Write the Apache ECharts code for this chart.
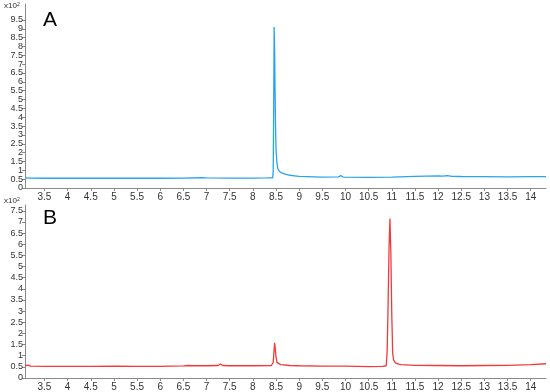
<!DOCTYPE html>
<html>
<head>
<meta charset="utf-8">
<script src="https://cdn.jsdelivr.net/npm/echarts@6/dist/echarts.min.js"></script>
<style>
    html, body { margin: 0; padding: 0; background: #fff; }
    #chart { width: 550px; height: 392px; }
</style>
</head>
<body>
<div id="chart"></div>
<script>
// retention time (min) and intensity (x10^2) for trace A
var timesA = [3.08, 3.2, 3.5, 4, 4.5, 5, 5.5, 6, 6.5, 6.9, 7.0, 7.5, 8, 8.3, 8.43, 8.44, 8.45, 8.46, 8.47, 8.48, 8.49, 8.5, 8.52, 8.54, 8.57, 8.62, 8.7, 8.8, 8.9, 9.0, 9.5, 9.85, 9.9, 9.95, 10.5, 11, 11.5, 12, 12.1, 12.2, 12.3, 12.5, 13, 13.5, 14, 14.33];
var valuesA = [0.57, 0.56, 0.55, 0.55, 0.55, 0.55, 0.56, 0.55, 0.56, 0.58, 0.57, 0.56, 0.56, 0.57, 0.58, 1.0, 4.5, 9.1, 7.8, 5.5, 3.5, 2.2, 1.4, 1.1, 0.95, 0.85, 0.78, 0.72, 0.69, 0.66, 0.62, 0.63, 0.7, 0.62, 0.6, 0.61, 0.66, 0.68, 0.67, 0.7, 0.66, 0.65, 0.64, 0.63, 0.64, 0.64];

// trace B
var timesB = [3.08, 3.15, 3.2, 3.5, 4, 4.5, 5, 5.5, 6, 6.5, 6.6, 6.7, 7.0, 7.25, 7.3, 7.35, 7.5, 8, 8.4, 8.44, 8.46, 8.47, 8.48, 8.5, 8.52, 8.6, 8.8, 9, 9.5, 10, 10.5, 10.8, 10.88, 10.9, 10.92, 10.94, 10.96, 10.98, 11.0, 11.02, 11.04, 11.08, 11.15, 11.2, 11.5, 12, 12.5, 13, 13.5, 14, 14.33];
var valuesB = [0.55, 0.58, 0.53, 0.52, 0.52, 0.52, 0.53, 0.52, 0.52, 0.54, 0.56, 0.55, 0.55, 0.56, 0.63, 0.56, 0.55, 0.55, 0.56, 0.7, 1.3, 1.58, 1.4, 0.95, 0.7, 0.6, 0.56, 0.55, 0.53, 0.53, 0.51, 0.52, 0.55, 1.2, 3.2, 5.8, 7.15, 5.6, 2.8, 1.1, 0.8, 0.68, 0.62, 0.6, 0.57, 0.56, 0.55, 0.56, 0.57, 0.6, 0.64];

var xTicks = [3.5, 4, 4.5, 5, 5.5, 6, 6.5, 7, 7.5, 8, 8.5, 9, 9.5, 10, 10.5, 11, 11.5, 12, 12.5, 13, 13.5, 14];
var yTicksA = [0, 0.5, 1, 1.5, 2, 2.5, 3, 3.5, 4, 4.5, 5, 5.5, 6, 6.5, 7, 7.5, 8, 8.5, 9, 9.5];
var yTicksB = [0, 0.5, 1, 1.5, 2, 2.5, 3, 3.5, 4, 4.5, 5, 5.5, 6, 6.5, 7, 7.5];

function pairs(xs, ys) {
    return xs.map(function (x, i) { return [x, ys[i]]; });
}

var axisGray = '#8a8a8a';

function xAxisFor(idx) {
    return {
        type: 'value',
        gridIndex: idx,
        min: 3.08,
        max: 14.33,
        axisLine: { show: true, lineStyle: { color: axisGray } },
        axisTick: { show: true, length: 3, customValues: xTicks, lineStyle: { color: axisGray } },
        axisLabel: { customValues: xTicks, interval: 0, hideOverlap: false, color: '#333', fontSize: 10, fontFamily: 'Liberation Sans, Arial', margin: 4 },
        splitLine: { show: false }
    };
}

function yAxisFor(idx, max, ticks) {
    return {
        type: 'value',
        gridIndex: idx,
        min: 0,
        max: max,
        axisLine: { show: true, lineStyle: { color: axisGray } },
        axisTick: { show: true, length: 3, customValues: ticks, lineStyle: { color: axisGray } },
        axisLabel: { customValues: ticks, interval: 0, hideOverlap: false, showMinLabel: true, showMaxLabel: true, color: '#333', fontSize: 9, fontFamily: 'Liberation Sans, Arial', margin: 2 },
        splitLine: { show: false }
    };
}

var myChart = echarts.init(document.getElementById('chart'));
myChart.setOption({
    animation: false,
    grid: [
        { left: 25, right: 4, top: 4, height: 184 },
        { left: 25, right: 4, top: 205, height: 176 }
    ],
    xAxis: [xAxisFor(0), xAxisFor(1)],
    yAxis: [yAxisFor(0, 10.4, yTicksA), yAxisFor(1, 7.76, yTicksB)],
    graphic: [
        { type: 'text', left: 43, top: 10, style: { text: 'A', fontSize: 21, fill: '#000', fontFamily: 'Liberation Sans, Arial' } },
        { type: 'text', left: 43, top: 208, style: { text: 'B', fontSize: 21, fill: '#000', fontFamily: 'Liberation Sans, Arial' } },
        { type: 'text', left: 4, top: 2, style: { rich: { b: { fontSize: 8, fill: '#333' }, s: { fontSize: 5, fill: '#333', verticalAlign: 'top', padding: [0, 0, 3, 0] } }, text: '{b|x10}{s|2}' } },
        { type: 'text', left: 4, top: 197, style: { rich: { b: { fontSize: 8, fill: '#333' }, s: { fontSize: 5, fill: '#333', verticalAlign: 'top', padding: [0, 0, 3, 0] } }, text: '{b|x10}{s|2}' } }
    ],
    series: [
        {
            type: 'line',
            xAxisIndex: 0,
            yAxisIndex: 0,
            showSymbol: false,
            data: pairs(timesA, valuesA),
            lineStyle: { color: '#2aa3ef', width: 1.3 }
        },
        {
            type: 'line',
            xAxisIndex: 1,
            yAxisIndex: 1,
            showSymbol: false,
            data: pairs(timesB, valuesB),
            lineStyle: { color: '#f23a3a', width: 1.3 }
        }
    ]
});
</script>
</body>
</html>
